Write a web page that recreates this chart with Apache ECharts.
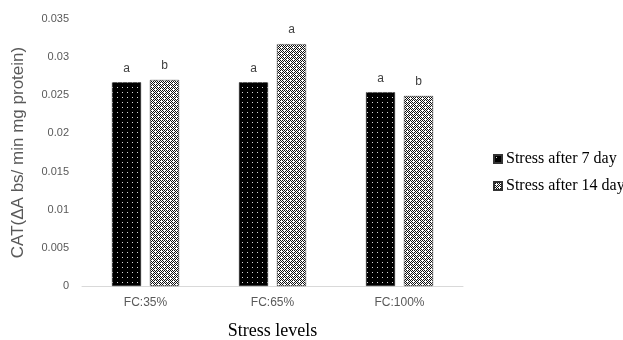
<!DOCTYPE html>
<html>
<head>
<meta charset="utf-8">
<script src="https://cdn.jsdelivr.net/npm/echarts@6/dist/echarts.min.js"></script>
<style>html,body{margin:0;padding:0;background:#fff}#c{width:623px;height:340px}</style>
</head>
<body>
<div id="c"></div>
<script>
var categories = ['FC:35%', 'FC:65%', 'FC:100%'];
var seriesNames = ['Stress after 7 day', 'Stress after 14 day'];
var day7 = [0.0267, 0.0267, 0.0254];
var day14 = [0.0270, 0.0317, 0.0249];
var day7Letters = ['a', 'a', 'a'];
var day14Letters = ['b', 'a', 'b'];
var yTicks = [0, 0.005, 0.01, 0.015, 0.02, 0.025, 0.03, 0.035];

function makeDots() {
  var c = document.createElement('canvas'); c.width = 5; c.height = 5;
  var g = c.getContext('2d');
  g.fillStyle = '#000'; g.fillRect(0, 0, 5, 5);
  g.fillStyle = '#d8d8d8'; g.fillRect(2, 2, 1, 1);
  return c;
}
function makeCheck() {
  var c = document.createElement('canvas'); c.width = 6; c.height = 6;
  var g = c.getContext('2d');
  g.fillStyle = '#fff'; g.fillRect(0, 0, 6, 6);
  g.fillStyle = '#111';
  for (var y = 0; y < 6; y++) for (var x = 0; x < 6; x++) if ((x + y) % 2 === 0) g.fillRect(x, y, 1, 1);
  g.fillStyle = '#fff'; g.fillRect(2, 2, 1, 2); g.fillRect(5, 5, 1, 1);
  return c;
}
var pat1 = { image: makeDots(), repeat: 'repeat' };
var pat2 = { image: makeCheck(), repeat: 'repeat' };

var chart = echarts.init(document.getElementById('c'), null, { renderer: 'canvas' });
chart.setOption({
  animation: false,
  grid: { left: 82, right: 160, top: 19, bottom: 54, containLabel: false, outerBoundsMode: 'none' },
  legend: {
    orient: 'vertical', left: 488, top: 146,
    icon: 'rect', itemWidth: 8, itemHeight: 8, itemGap: 11,
    textStyle: { fontFamily: 'Liberation Serif', fontSize: 16, color: '#000', padding: [0, 0, 0, -1] },
    data: seriesNames
  },
  xAxis: {
    type: 'category', data: categories,
    name: 'Stress levels', nameLocation: 'middle', nameGap: 36,
    nameTextStyle: { fontFamily: 'Liberation Serif', fontSize: 18, color: '#000' },
    axisLine: { lineStyle: { color: '#d9d9d9', width: 1 } },
    axisTick: { show: false },
    axisLabel: { fontFamily: 'Liberation Sans', fontSize: 12, color: '#595959', margin: 11 }
  },
  yAxis: {
    type: 'value', min: 0, max: 0.035, interval: 0.005,
    name: 'CAT(ΔA bs/ min mg protein)', nameLocation: 'middle', nameGap: 55, nameRotate: 90,
    nameTextStyle: { fontFamily: 'Liberation Sans', fontSize: 17, color: '#595959' },
    axisLine: { show: false }, axisTick: { show: false }, splitLine: { show: false },
    axisLabel: { fontFamily: 'Liberation Sans', fontSize: 11, color: '#595959', margin: 13,
      formatter: function (v) { var i = yTicks.indexOf(+v.toFixed(3)); return i >= 0 ? String(yTicks[i]) : ''; } }
  },
  series: [
    { name: seriesNames[0], type: 'bar', data: day7, barWidth: 29, barGap: '31%',
      itemStyle: { color: pat1, borderColor: '#333', borderWidth: 0.5 },
      label: { show: true, position: 'top', distance: 8, color: '#404040', fontFamily: 'Liberation Sans', fontSize: 12,
        formatter: function (p) { return day7Letters[p.dataIndex]; } } },
    { name: seriesNames[1], type: 'bar', data: day14, barWidth: 29,
      itemStyle: { color: pat2, borderColor: '#333', borderWidth: 0.5 },
      label: { show: true, position: 'top', distance: 8, color: '#404040', fontFamily: 'Liberation Sans', fontSize: 12,
        formatter: function (p) { return day14Letters[p.dataIndex]; } } }
  ]
});
</script>
</body>
</html>
